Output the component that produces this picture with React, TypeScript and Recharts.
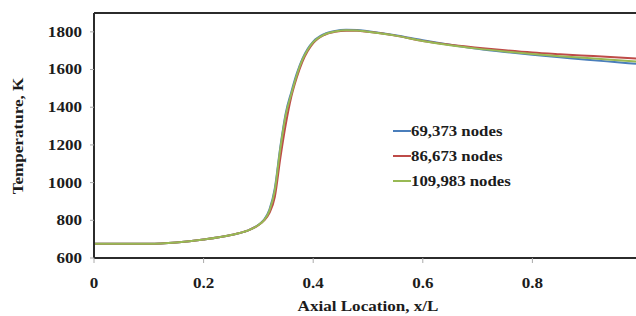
import React from 'react';
import { LineChart, Line, XAxis, YAxis, ReferenceLine } from 'recharts';

const xLoc = [0, 0.05, 0.1, 0.15, 0.2, 0.25, 0.28, 0.3, 0.31, 0.32, 0.33, 0.34, 0.35, 0.36, 0.37, 0.38, 0.39, 0.4, 0.42, 0.44, 0.46, 0.48, 0.5, 0.55, 0.6, 0.65, 0.7, 0.75, 0.8, 0.85, 0.9, 0.95, 1.0];

const nodes69k = [675, 675, 675, 682, 698, 722, 745, 776, 802, 855, 970, 1190, 1370, 1480, 1578, 1655, 1710, 1748, 1788, 1805, 1811, 1810, 1803, 1782, 1755, 1731, 1710, 1693, 1678, 1665, 1652, 1640, 1628];
const nodes86k = [675, 675, 675, 682, 698, 722, 745, 774, 798, 838, 925, 1130, 1310, 1455, 1558, 1640, 1698, 1740, 1783, 1800, 1806, 1806, 1800, 1780, 1751, 1731, 1716, 1702, 1690, 1681, 1673, 1665, 1656];
const nodes109k = [675, 675, 675, 682, 698, 722, 745, 775, 800, 850, 960, 1180, 1360, 1470, 1570, 1650, 1705, 1745, 1785, 1802, 1808, 1807, 1800, 1780, 1752, 1729, 1711, 1696, 1683, 1671, 1661, 1650, 1640];

const seriesNames = ['69,373 nodes', '86,673 nodes', '109,983 nodes'];
const seriesKeys = ['n69', 'n86', 'n109'];
const seriesColors = ['#4a7ebb', '#be4b48', '#98b954'];

// the 1.0 tick sits just past the right edge of the picture
const xTicks = [0, 0.2, 0.4, 0.6, 0.8];
const yTicks = [600, 800, 1000, 1200, 1400, 1600, 1800];

const data = xLoc.map((x, i) => ({ x, n69: nodes69k[i], n86: nodes86k[i], n109: nodes109k[i] }));

const FONT = '"Liberation Serif", "Times New Roman", serif';
const INK = '#1c1c1c';
const STRETCH = 1.22;

const XTick = (props: any) => {
  const { x, y, payload } = props;
  return (
    <g transform={`translate(${x},${y})`}>
      <text transform={`scale(${STRETCH},1)`} textAnchor="middle" dy="0.71em" fontFamily={FONT} fontWeight="bold" fontSize={14} fill={INK}>
        {payload.value === 0 ? '0' : String(payload.value)}
      </text>
    </g>
  );
};

const YTick = (props: any) => {
  const { x, y, payload } = props;
  return (
    <g transform={`translate(${x},${y})`}>
      <text transform={`scale(${STRETCH},1)`} textAnchor="end" dy="0.35em" fontFamily={FONT} fontWeight="bold" fontSize={14} fill={INK}>
        {payload.value}
      </text>
    </g>
  );
};

const YTitle = () => (
  <g transform="translate(23,136) rotate(-90)">
    <text transform={`scale(${STRETCH},1)`} textAnchor="middle" fontFamily={FONT} fontWeight="bold" fontSize={14} fill={INK}>
      Temperature, K
    </text>
  </g>
);

const XTitle = (props: any) => {
  const { viewBox } = props;
  const cx = viewBox.x + viewBox.width / 2;
  return (
    <g transform={`translate(${cx},311)`}>
      <text transform={`scale(${STRETCH},1)`} textAnchor="middle" fontFamily={FONT} fontWeight="bold" fontSize={14} fill={INK}>
        Axial Location, x/L
      </text>
    </g>
  );
};

const App: React.FC = () => {
  return (
    <div style={{ position: 'fixed', left: 0, top: 0, width: 636, height: 316, overflow: 'hidden', background: '#fff' }}>
      <LineChart width={652} height={316} data={data} margin={{ top: 13, right: 10, bottom: 0, left: 0 }}>
        <XAxis
          dataKey="x"
          type="number"
          domain={[0, 1]}
          ticks={xTicks}
          height={58}
          tick={<XTick />}
          tickSize={5}
          tickMargin={15}
          tickLine={{ stroke: '#aaa' }}
          axisLine={{ stroke: '#2b2b2b', strokeWidth: 2 }}
          label={<XTitle />}
        />
        <YAxis
          type="number"
          domain={[600, 1900]}
          ticks={yTicks}
          width={94}
          tick={<YTick />}
          tickSize={4}
          tickMargin={8}
          tickLine={{ stroke: '#aaa' }}
          axisLine={{ stroke: '#2b2b2b', strokeWidth: 2 }}
          label={<YTitle />}
        />
        <ReferenceLine y={1900} stroke="#2b2b2b" strokeWidth={2} ifOverflow="extendDomain" />
        {seriesKeys.map((k, i) => (
          <Line key={k} type="monotone" dataKey={k} name={seriesNames[i]} stroke={seriesColors[i]} strokeWidth={2} dot={false} isAnimationActive={false} />
        ))}
      </LineChart>
      <svg style={{ position: 'absolute', left: 390, top: 118 }} width={180} height={80}>
        {seriesNames.map((name, i) => (
          <g key={name} transform={`translate(0,${13 + i * 25})`}>
            <line x1={3} x2={21} y1={0} y2={0} stroke={seriesColors[i]} strokeWidth={2} />
            <g transform="translate(21,0)">
              <text transform={`scale(1.2,1)`} dy="0.35em" fontFamily={FONT} fontWeight="bold" fontSize={14} fill={INK}>
                {name}
              </text>
            </g>
          </g>
        ))}
      </svg>
    </div>
  );
};

export default App;
